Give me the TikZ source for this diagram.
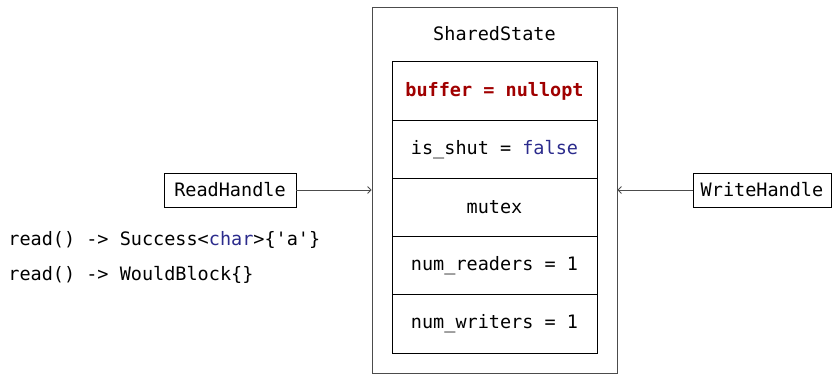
\documentclass[tikz,border=0pt]{standalone}
\usepackage{fontspec}
\usetikzlibrary{arrows.meta}
\setmonofont{DejaVu Sans Mono}
\definecolor{kwred}{HTML}{A00000}
\definecolor{kwblue}{HTML}{2B2B8C}
\tikzset{
  cell/.style={draw, minimum width=205pt, minimum height=58.2pt, inner sep=0pt},
  handle/.style={draw, minimum height=34pt, inner sep=0pt},
  code/.style={inner sep=0pt},
  link/.style={-{Straight Barb[length=3.5pt, width=7pt]}, black!70}
}
\begin{document}
\begin{tikzpicture}[x=1pt, y=-1pt, font=\ttfamily\fontsize{18.5}{22}\selectfont, line width=0.8pt]
\useasboundingbox (0,0) rectangle (833,374);
\node[draw, black!70, minimum width=245pt, minimum height=366pt] (state) at (494.5,190){};
\node[code] (title) at (494.5,34){SharedState};
\node[cell] (cbuf) at (494.5,91){\textcolor{kwred}{\bfseries buffer = nullopt}};
\node[cell] (cshut) at (494.5,149.2){is\_shut = \textcolor{kwblue}{false}};
\node[cell] (cmutex) at (494.5,207.4){mutex};
\node[cell] (creaders) at (494.5,265.6){num\_readers = 1};
\node[cell] (cwriters) at (494.5,323.8){num\_writers = 1};
\node[handle, minimum width=132pt] (rh) at (230,190){ReadHandle};
\node[handle, minimum width=138pt] (wh) at (762,190){WriteHandle};
\draw[link](rh) -- (rh -| state.west);
\draw[link](wh) -- (wh -| state.east);
\node[code, anchor=west] (read1) at (8,240){read() -> Success<\textcolor{kwblue}{char}>\{'a'\}};
\node[code, anchor=west] (read2) at (8,275){read() -> WouldBlock\{\}};
\end{tikzpicture}
\end{document}
